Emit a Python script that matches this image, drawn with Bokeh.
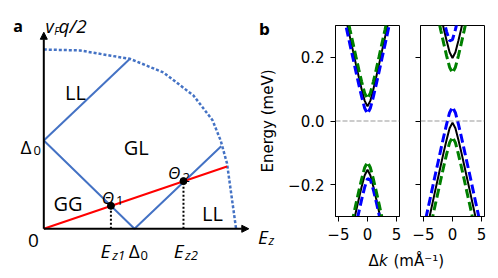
from bokeh.plotting import figure
from bokeh.models import Range1d, Arrow, NormalHead, FixedTicker, Span, CustomJSTickFormatter
from bokeh.layouts import row, column
from bokeh.embed import file_html
from bokeh.resources import INLINE
from bokeh.core.properties import value

# ---------------- Panel a data (units of Delta0) ----------------
arc_ez = [0.0, 0.40, 0.74, 0.95, 1.32, 1.65, 1.86, 1.95, 2.02, 2.12]
arc_q = [2.03, 2.02, 1.96, 1.925, 1.77, 1.51, 1.23, 1.00, 0.74, 0.0]
ll_ez = [0.0, 0.95]
ll_q = [1.0, 1.925]
v_ez = [0.0, 1.0, 1.956]
v_q = [1.0, 0.0, 0.935]
red_ez = [0.0, 2.02]
red_q = [0.0, 0.705]
theta_ez = [0.74, 1.54]
theta_q = [0.26, 0.54]
axis_len_ez = 2.26
axis_len_q = 2.226

# ---------------- Panel b data ----------------
k = [-6, -5, -4, -3, -2.5, -2, -1.5, -1, -0.5, 0, 0.5, 1, 1.5, 2, 2.5, 3, 4, 5, 6]
# left panel
L_up_black = [0.516, 0.431, 0.347, 0.262, 0.221, 0.179, 0.138, 0.099, 0.064, 0.046, 0.064, 0.099, 0.138, 0.179, 0.221, 0.262, 0.347, 0.431, 0.516]
L_up_blue = [0.493, 0.408, 0.324, 0.239, 0.198, 0.156, 0.115, 0.076, 0.041, 0.023, 0.041, 0.076, 0.115, 0.156, 0.198, 0.239, 0.324, 0.408, 0.493]
L_up_green = [0.540, 0.455, 0.371, 0.286, 0.245, 0.203, 0.162, 0.123, 0.088, 0.070, 0.088, 0.123, 0.162, 0.203, 0.245, 0.286, 0.371, 0.455, 0.540]
L_lo_black = [-0.623, -0.538, -0.454, -0.369, -0.328, -0.286, -0.245, -0.206, -0.171, -0.153, -0.171, -0.206, -0.245, -0.286, -0.328, -0.369, -0.454, -0.538, -0.623]
L_lo_blue = [-0.665, -0.580, -0.496, -0.411, -0.369, -0.328, -0.287, -0.246, -0.209, -0.181, -0.185, -0.216, -0.254, -0.295, -0.336, -0.378, -0.462, -0.546, -0.631]
L_lo_green = [-0.599, -0.514, -0.430, -0.345, -0.304, -0.262, -0.221, -0.182, -0.147, -0.129, -0.147, -0.182, -0.221, -0.262, -0.304, -0.345, -0.430, -0.514, -0.599]
# right panel
R_up_black = [0.668, 0.583, 0.499, 0.414, 0.373, 0.331, 0.290, 0.251, 0.216, 0.198, 0.216, 0.251, 0.290, 0.331, 0.373, 0.414, 0.499, 0.583, 0.668]
R_up_blue = [0.693, 0.609, 0.524, 0.440, 0.399, 0.357, 0.317, 0.280, 0.252, 0.256, 0.287, 0.325, 0.366, 0.407, 0.449, 0.490, 0.575, 0.660, 0.744]
R_up_green = [0.621, 0.536, 0.452, 0.367, 0.326, 0.284, 0.243, 0.204, 0.169, 0.151, 0.169, 0.204, 0.243, 0.284, 0.326, 0.367, 0.452, 0.536, 0.621]
R_lo_black = [-0.475, -0.390, -0.306, -0.221, -0.180, -0.138, -0.097, -0.058, -0.023, -0.005, -0.023, -0.058, -0.097, -0.138, -0.180, -0.221, -0.306, -0.390, -0.475]
R_lo_blue = [-0.426, -0.341, -0.257, -0.172, -0.131, -0.089, -0.048, -0.009, 0.026, 0.044, 0.026, -0.009, -0.048, -0.089, -0.131, -0.172, -0.257, -0.341, -0.426]
R_lo_green = [-0.520, -0.435, -0.351, -0.266, -0.225, -0.183, -0.142, -0.103, -0.068, -0.050, -0.068, -0.103, -0.142, -0.183, -0.225, -0.266, -0.351, -0.435, -0.520]

x_ticks = [-5, 0, 5]
x_tick_labels = {-5: "\u22125", 0: "0", 5: "5"}
y_ticks = [-0.2, 0, 0.2]
y_tick_labels = {-0.2: "\u22120.2", 0: "0.0", 0.2: "0.2"}

BLUE_A = "#4472C4"
FA = value("Open Sans")
FB = "DejaVu Sans"

# ---------------- Panel a ----------------
pa = figure(width=280, height=270, x_range=Range1d(-0.4774, 2.6097), y_range=Range1d(-0.4723, 2.5855),
            output_backend="svg", toolbar_location=None, x_axis_location=None, y_axis_location=None,
            min_border=0, outline_line_color=None, margin=(0, -24, 0, 0))
pa.grid.visible = False

pa.line(arc_ez, arc_q, line_color=BLUE_A, line_width=2.5, line_dash="3 2")
pa.line(ll_ez, ll_q, line_color=BLUE_A, line_width=2)
pa.line(v_ez, v_q, line_color=BLUE_A, line_width=2)
pa.line(red_ez, red_q, line_color="#FF0000", line_width=2)
for ez, q in zip(theta_ez, theta_q):
    pa.line([ez, ez], [0, q], line_color="black", line_width=2, line_dash="2 2")
pa.add_layout(Arrow(end=NormalHead(size=7, fill_color="black", line_color="black", line_width=1),
                    x_start=0, y_start=0, x_end=axis_len_ez, y_end=0, line_width=2, line_color="black"))
pa.add_layout(Arrow(end=NormalHead(size=7, fill_color="black", line_color="black", line_width=1),
                    x_start=0, y_start=0, x_end=0, y_end=axis_len_q, line_width=2, line_color="black"))
pa.scatter(theta_ez, theta_q, size=7, color="black")


def txt(x, y, s, size, style="normal", align="left", font=FA):
    pa.text(x=x, y=y, text=s, text_font=font, text_font_style=style, text_font_size=size,
            text_align=align, text_baseline="alphabetic", text_color="black")


# region labels
txt([0.35, 1.02, 0.267, 1.86], [1.547, 0.924, 0.287, 0.173], ["LL", "GL", "GG", "LL"], "20px", align="center")
# theta labels
txt([0.640, 1.368], [0.354, 0.638], ["\u0398", "\u0398"], "17px", style="italic")
txt([0.795, 1.529], [0.320, 0.581], ["1", "2"], "13px")
# Delta0 labels and origin
txt([-0.257, 0.937], [0.926, -0.246], ["\u0394", "\u0394"], "19px")
txt([-0.114, 1.066], [0.887, -0.302], ["0", "0"], "13px")
txt([-0.114], [-0.133], ["0"], "19px", align="center")
# E_z1, E_z2, E_z
txt([0.625, 1.433, 2.362], [-0.246, -0.246, -0.095], ["E", "E", "E"], "19px", style="italic")
txt([0.754, 1.557], [-0.302, -0.302], ["z1", "z2"], "13px", style="italic")
txt([2.477], [-0.132], ["z"], "13px", style="italic")
# v_F q/2
txt([0.019], [2.302], ["v"], "18px", style="italic")
txt([0.115], [2.245], ["F"], "10px", style="italic")
txt([0.162], [2.302], ["q/2"], "19px", style="italic")
# panel letters
txt([-0.284], [2.302], ["a"], "16px", style="bold", align="center")
txt([2.373], [2.246], ["b"], "15px", style="bold", font=value(FB))


# ---------------- Panel b ----------------
def style_b(p, show_labels):
    p.grid.visible = False
    p.border_fill_color = None
    p.outline_line_color = "black"
    p.outline_line_width = 1
    p.outline_line_alpha = 1
    for ax in (p.xaxis[0], p.yaxis[0]):
        ax.axis_line_color = "black"
        ax.major_tick_line_color = "black"
        ax.major_tick_out = 5
        ax.major_tick_in = 0
        ax.minor_tick_line_color = None
        ax.major_label_text_font = FB
        ax.major_label_text_font_size = "15px"
        ax.major_label_text_color = "black"
        ax.major_label_standoff = 6
    p.xaxis.ticker = FixedTicker(ticks=x_ticks)
    p.yaxis.ticker = FixedTicker(ticks=y_ticks)
    p.xaxis.major_label_overrides = x_tick_labels
    if show_labels:
        p.yaxis.major_label_overrides = y_tick_labels
    else:
        p.yaxis.formatter = CustomJSTickFormatter(code="return ''")
        p.yaxis.major_label_standoff = 0
    p.add_layout(Span(location=0, dimension="width", line_color="gray", line_alpha=0.8,
                      line_width=1, line_dash="5 2"))


b1 = figure(width=145, height=248, x_range=Range1d(-5.5, 5.5), y_range=Range1d(-0.3, 0.3),
            output_backend="svg", toolbar_location=None, min_border_left=78, min_border_right=2,
            min_border_top=25, min_border_bottom=32)
b2 = figure(width=89, height=248, x_range=Range1d(-5.5, 5.5), y_range=Range1d(-0.3, 0.3),
            output_backend="svg", toolbar_location=None, min_border_left=19, min_border_right=6,
            min_border_top=25, min_border_bottom=32)
style_b(b1, True)
style_b(b2, False)
b1.yaxis.axis_label = "Energy (meV)"
b1.yaxis.axis_label_text_font = FB
b1.yaxis.axis_label_text_font_size = "15px"
b1.yaxis.axis_label_text_font_style = "normal"
b1.yaxis.axis_label_text_color = "black"
b1.yaxis.axis_label_standoff = 8

DASH = "9 4"
for p, curves in ((b1, (L_up_black, L_up_blue, L_up_green, L_lo_black, L_lo_blue, L_lo_green)),
                  (b2, (R_up_black, R_up_blue, R_up_green, R_lo_black, R_lo_blue, R_lo_green))):
    for i in (0, 3):
        p.line(k, curves[i], line_color="black", line_width=2)
    for i in (1, 4):
        p.line(k, curves[i], line_color="blue", line_width=3, line_dash=DASH)
    for i in (2, 5):
        p.line(k, curves[i], line_color="green", line_width=3, line_dash=DASH)

# shared x label
xl = figure(width=234, height=22, x_range=Range1d(256, 490), y_range=Range1d(270, 248),
            output_backend="svg", toolbar_location=None, x_axis_location=None, y_axis_location=None,
            min_border=0, outline_line_color=None)
xl.grid.visible = False
xl.border_fill_color = None
xl.background_fill_color = None
xl.text(x=[368], y=[260], text=["\u0394"], text_font=value(FB), text_font_size="15px",
        text_align="left", text_baseline="alphabetic", text_color="black")
xl.text(x=[378.5], y=[260], text=["k"], text_font=value(FB), text_font_style="italic", text_font_size="15px",
        text_align="left", text_baseline="alphabetic", text_color="black")
xl.text(x=[393], y=[260], text=["(m\u00c5\u207b\u00b9)"], text_font=value(FB), text_font_size="15px",
        text_align="left", text_baseline="alphabetic", text_color="black")

layout = row(pa, column(row(b1, b2), xl))
open("out.html", "w").write(file_html(layout, INLINE))
